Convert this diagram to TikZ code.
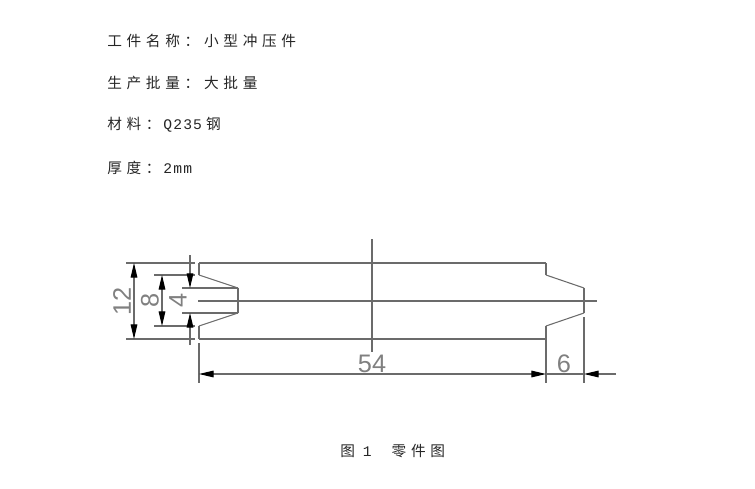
\documentclass[tikz,border=0pt]{standalone}
\usepackage{fontspec}
\setmainfont{Liberation Sans}
\newfontfamily\cjk[LetterSpace=32]{Noto Sans CJK SC}
\newfontfamily\monolat[LetterSpace=8]{Liberation Mono}
\usetikzlibrary{arrows.meta}
\tikzstyle{thin}=[draw=black!58,line width=0.8pt]
\tikzstyle{tip}=[-{Triangle[length=11pt,width=5pt,color=black]}]
\tikzstyle{notes}=[anchor=west,inner sep=0pt,text=black!85,font=\fontsize{11}{12}\selectfont]
\tikzstyle{dimtext}=[inner sep=0pt,text=black!50,font=\fontsize{19}{20}\selectfont]

\begin{document}
\begin{tikzpicture}[x=0.75pt,y=-0.75pt]
\useasboundingbox (0,0) rectangle (755,488);

\coordinate (tl) at (199,263);
\coordinate (tr) at (546,263);
\coordinate (bl) at (199,339);
\coordinate (br) at (546,339);
\coordinate (nt) at (199,275);
\coordinate (nb) at (199,326);
\coordinate (it) at (238,288);
\coordinate (ib) at (238,313);
\coordinate (rt) at (546,275);
\coordinate (rb) at (546,326);
\coordinate (et) at (584,288);
\coordinate (eb) at (584,313);

% part outline
\draw [thin] (tl)--(tr);
\draw [thin] (bl)--(br);
\draw [thin] (nt)--(tl);
\draw [thin] (bl)--(nb);
\draw [thin] (tr)--(rt);
\draw [thin] (rb)--(br);
\draw [thin] (it)--(ib);
\draw [thin] (et)--(eb);
\draw [thin] (nt)--(it);
\draw [thin] (nb)--(ib);
\draw [thin] (rt)--(et);
\draw [thin] (rb)--(eb);

% centre lines
\coordinate (cl) at (198,301);
\coordinate (cr) at (597,301);
\coordinate (ct) at (372,239);
\coordinate (cb) at (372,352);
\draw [thin] (cl)--(cr);
\draw [thin] (ct)--(cb);

% height 12
\coordinate (a1) at (126,263);
\coordinate (a2) at (195,263);
\coordinate (a3) at (126,339);
\coordinate (a4) at (195,339);
\coordinate (a5) at (134,263);
\coordinate (a6) at (134,339);
\coordinate (a7) at (134,301);
\draw [thin] (a1)--(a2);
\draw [thin] (a3)--(a4);
\draw [thin,tip] (a7)--(a5);
\draw [thin,tip] (a7)--(a6);
\node (d12) [dimtext,rotate=90] at (122,301) {12};

% height 8
\coordinate (b1) at (154,275);
\coordinate (b2) at (195,275);
\coordinate (b3) at (154,326);
\coordinate (b4) at (195,326);
\coordinate (b5) at (162,275);
\coordinate (b6) at (162,326);
\coordinate (b7) at (162,300);
\draw [thin] (b1)--(b2);
\draw [thin] (b3)--(b4);
\draw [thin,tip] (b7)--(b5);
\draw [thin,tip] (b7)--(b6);
\node (d8) [dimtext,rotate=90] at (150,300.5) {8};

% height 4
\coordinate (c1) at (182,288);
\coordinate (c2) at (182,313);
\coordinate (c3) at (190,255);
\coordinate (c4) at (190,345);
\coordinate (c5) at (190,288);
\coordinate (c6) at (190,313);
\draw [thin] (c1)--(it);
\draw [thin] (c2)--(ib);
\draw [thin,tip] (c3)--(c5);
\draw [thin,tip] (c4)--(c6);
\node (d4) [dimtext,rotate=90] at (178,300.5) {4};

% lengths 54 and 6
\coordinate (e1) at (199,343);
\coordinate (e2) at (199,383);
\coordinate (e3) at (546,339);
\coordinate (e4) at (546,383);
\coordinate (e5) at (584,317);
\coordinate (e6) at (584,383);
\coordinate (e7) at (199,374);
\coordinate (e8) at (546,374);
\coordinate (e9) at (584,374);
\coordinate (e10) at (616,374);
\coordinate (e11) at (372,374);
\draw [thin] (e1)--(e2);
\draw [thin] (e3)--(e4);
\draw [thin] (e5)--(e6);
\draw [thin,tip] (e11)--(e7);
\draw [thin,tip] (e11)--(e8);
\draw [thin] (e8)--(e9);
\draw [thin,tip] (e10)--(e9);
\node (d54) [dimtext] at (372,363.5) {54};
\node (d6) [dimtext] at (564,363.5) {6};

% notes
\node (n1) [notes] at (107,41) {\cjk 工件名称：小型冲压件};
\node (n2) [notes] at (107,83) {\cjk 生产批量：大批量};
\node (n3) [notes] at (107,125) {\cjk 材料：\hspace{2pt}\monolat Q235\hspace{3pt}\cjk 钢};
\node (n4) [notes] at (107,168) {\cjk 厚度：\hspace{2pt}\monolat 2mm};
\node (cap) [notes] at (340,451) {\cjk 图\hspace{6pt}{\monolat 1}\hspace{15pt}\cjk 零件图};
\end{tikzpicture}
\end{document}
